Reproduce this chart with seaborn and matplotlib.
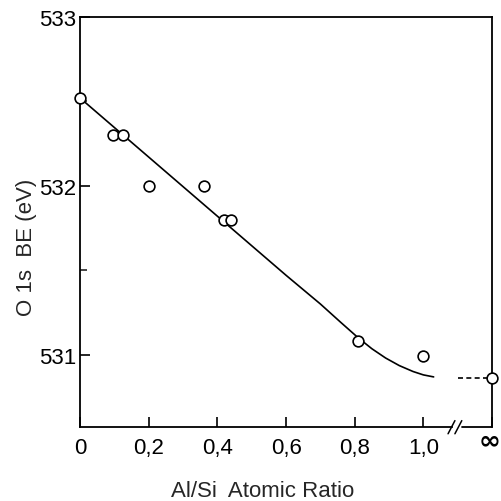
import matplotlib
matplotlib.use("Agg")
import matplotlib.pyplot as plt
import matplotlib.transforms as mtransforms
import seaborn as sns
import pandas as pd

# measured points (Al/Si ratio vs O 1s binding energy)
ratio = [0.0, 0.097, 0.125, 0.2, 0.36, 0.42, 0.44, 0.81, 1.0]
be = [532.52, 532.30, 532.30, 532.0, 532.0, 531.80, 531.80, 531.08, 530.99]

# pure Al2O3 point, plotted at the "infinity" position
inf_x = [1.20]
inf_be = [530.86]

# hand-drawn trend curve
curve_x = [0.0, 0.2, 0.4, 0.6, 0.7, 0.76, 0.81, 0.85, 0.89, 0.93, 0.97, 1.0, 1.03]
curve_y = [532.52, 532.17, 531.82, 531.47, 531.30, 531.19, 531.10, 531.035,
           530.98, 530.935, 530.90, 530.88, 530.868]

dash_x = [1.10, 1.20]
dash_y = [530.86, 530.86]

x_ticks = [0, 0.2, 0.4, 0.6, 0.8, 1.0, 1.2]
x_labels = ["0", "0,2", "0,4", "0,6", "0,8", "1,0", "\u221e"]
y_ticks = [531, 532, 533]
y_labels = ["531", "532", "533"]

sns.set_style("ticks")
plt.rcParams["font.family"] = ["DejaVu Sans Condensed", "Liberation Sans", "DejaVu Sans"]

fig = plt.figure(figsize=(5.01, 5.02), dpi=100)
ax = fig.add_axes([0.160, 0.147, 0.822, 0.817])

pts = pd.DataFrame({"x": ratio + inf_x, "y": be + inf_be})
sns.lineplot(x=curve_x, y=curve_y, ax=ax, color="black", lw=1.2)
sns.lineplot(x=dash_x, y=dash_y, ax=ax, color="black", lw=1.2, linestyle=(0, (3, 2)))
sns.scatterplot(data=pts, x="x", y="y", ax=ax, s=60, marker="o",
                facecolor="white", edgecolor="black", linewidth=1.2,
                zorder=5, clip_on=False)

ax.set_xlim(0, 1.2)
ax.set_ylim(530.57, 533)

ax.set_xticks(x_ticks)
ax.set_xticklabels(x_labels)
ax.set_yticks(y_ticks)
ax.set_yticklabels(y_labels)
ax.set_yticks([531.5, 532.5], minor=True)
ax.tick_params(axis="both", direction="in", length=7, width=1.2,
               labelsize=16, colors="black")
ax.tick_params(axis="x", pad=7)
ax.tick_params(axis="y", pad=3)
ax.tick_params(axis="y", which="minor", direction="in", length=5, width=1.2)
shift = mtransforms.ScaledTranslation(-2 / 72, 7 / 72, fig.dpi_scale_trans)
for lab in ax.get_xticklabels():
    if lab.get_text() == "\u221e":
        lab.set_fontsize(19)
        lab.set_family("DejaVu Sans")
        lab.set_fontweight("bold")
        lab.set_transform(lab.get_transform() + shift)

for s in ax.spines.values():
    s.set_linewidth(1.3)
    s.set_color("black")

# broken x axis before infinity
ax.spines["bottom"].set_bounds(0, 1.083)
tr = ax.get_xaxis_transform()
ax.plot([1.113, 1.2], [0, 0], transform=tr, color="black", lw=1.3, clip_on=False)
ax.plot([1.072, 1.092], [-0.016, 0.016], transform=tr, color="black", lw=1.1, clip_on=False)
ax.plot([1.092, 1.112], [-0.016, 0.016], transform=tr, color="black", lw=1.1, clip_on=False)

ax.set_xlabel("Al/Si  Atomic Ratio", fontsize=16)
ax.set_ylabel("O 1s  BE (eV)", fontsize=16)
ax.xaxis.set_label_coords(0.444, -0.128)
ax.yaxis.set_label_coords(-0.105, 0.44)

fig.savefig("out.png", dpi=100)
